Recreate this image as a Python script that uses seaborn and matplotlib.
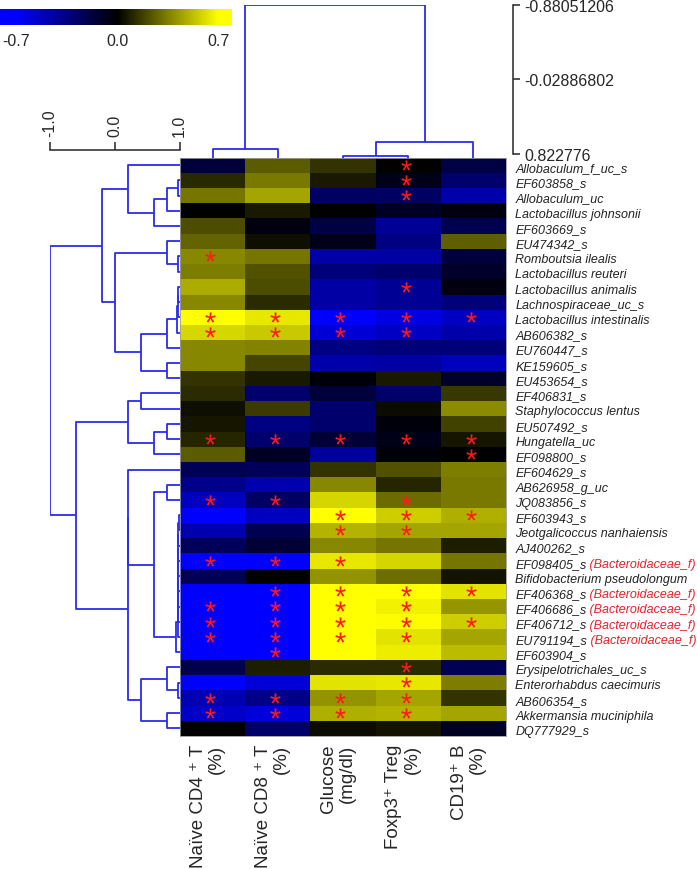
import numpy as np
import pandas as pd
import matplotlib
matplotlib.use('Agg')
import matplotlib.pyplot as plt
import seaborn as sns
from matplotlib.colors import LinearSegmentedColormap
from matplotlib.textpath import TextPath
from matplotlib.font_manager import FontProperties
from matplotlib.path import Path

sns.set_style('white')
plt.rcParams['font.family'] = ['Liberation Sans', 'DejaVu Sans']

# -------------------------------------------------------
# data (rows in dendrogram order)
# -------------------------------------------------------
species = ['Allobaculum_f_uc_s', 'EF603858_s', 'Allobaculum_uc', 'Lactobacillus johnsonii',
           'EF603669_s', 'EU474342_s', 'Romboutsia ilealis', 'Lactobacillus reuteri',
           'Lactobacillus animalis', 'Lachnospiraceae_uc_s', 'Lactobacillus intestinalis',
           'AB606382_s', 'EU760447_s', 'KE159605_s', 'EU453654_s', 'EF406831_s',
           'Staphylococcus lentus', 'EU507492_s', 'Hungatella_uc', 'EF098800_s',
           'EF604629_s', 'AB626958_g_uc', 'JQ083856_s', 'EF603943_s',
           'Jeotgalicoccus nanhaiensis', 'AJ400262_s', 'EF098405_s',
           'Bifidobacterium pseudolongum', 'EF406368_s', 'EF406686_s', 'EF406712_s',
           'EU791194_s', 'EF603904_s', 'Erysipelotrichales_uc_s', 'Enterorhabdus caecimuris',
           'AB606354_s', 'Akkermansia muciniphila', 'DQ777929_s']
bacteroidaceae_rows = [26, 28, 29, 30, 31]
family_tag = ' (Bacteroidaceae_f)'

variables = ['Naïve CD4 ⁺ T\n(%)', 'Naïve CD8 ⁺ T\n(%)', 'Glucose\n(mg/dl)',
             'Foxp3⁺ Treg\n(%)', 'CD19⁺ B\n(%)']

naive_cd4 = [-0.16, 0.11, 0.32, 0.0, 0.21, 0.27, 0.37, 0.34, 0.47, 0.37,
             0.70, 0.59, 0.37, 0.37, 0.14, 0.12, 0.04, 0.06, 0.10, 0.25,
             -0.23, -0.38, -0.52, -0.70, -0.48, -0.25, -0.69, -0.23, -0.70, -0.70,
             -0.70, -0.70, -0.70, -0.21, -0.69, -0.49, -0.55, 0.0]
naive_cd8 = [0.25, 0.33, 0.45, 0.07, -0.04, 0.04, 0.32, 0.22, 0.21, 0.12,
             0.63, 0.55, 0.36, 0.19, 0.07, -0.30, 0.16, -0.36, -0.30, -0.10,
             -0.25, -0.48, -0.27, -0.52, -0.22, -0.15, -0.69, 0.0, -0.70, -0.70,
             -0.70, -0.70, -0.70, 0.08, -0.59, -0.37, -0.60, -0.29]
glucose = [0.14, 0.07, -0.27, 0.0, -0.19, -0.07, -0.45, -0.33, -0.45, -0.45,
           -0.69, -0.58, -0.36, -0.47, -0.03, -0.16, -0.30, -0.30, -0.15, -0.43,
           0.14, 0.37, 0.58, 0.70, 0.49, 0.37, 0.63, 0.40, 0.70, 0.70,
           0.70, 0.70, 0.70, 0.12, 0.62, 0.40, 0.48, 0.03]
foxp3_treg = [0.0, -0.07, -0.27, -0.10, -0.41, -0.36, -0.45, -0.30, -0.41, -0.41,
              -0.62, -0.54, -0.33, -0.45, 0.07, -0.29, 0.03, -0.03, -0.07, -0.03,
              0.22, 0.10, 0.29, 0.56, 0.45, 0.32, 0.58, 0.30, 0.70, 0.66,
              0.69, 0.62, 0.65, 0.12, 0.63, 0.45, 0.49, 0.05]
cd19_b = [-0.19, -0.30, -0.47, -0.04, -0.22, 0.26, -0.16, -0.12, -0.04, -0.34,
          -0.54, -0.47, -0.33, -0.52, -0.12, 0.15, 0.38, 0.18, 0.06, -0.01,
          0.34, 0.33, 0.33, 0.48, 0.45, 0.08, 0.32, 0.05, 0.62, 0.41,
          0.56, 0.45, 0.51, -0.23, 0.34, 0.14, 0.45, -0.10]

# significant cells (row indices per column)
stars_cd4 = [6, 10, 11, 18, 22, 26, 29, 30, 31, 35, 36]
stars_cd8 = [10, 11, 18, 22, 26, 28, 29, 30, 31, 32, 35, 36]
stars_glucose = [10, 11, 18, 23, 24, 26, 28, 29, 30, 31, 35, 36]
stars_foxp3 = [0, 1, 2, 8, 10, 11, 18, 22, 23, 24, 28, 29, 30, 31, 33, 34, 35, 36]
stars_cd19 = [10, 18, 19, 23, 28, 30]

# dendrograms as nested (height, left, right); ints are leaves
chain_23_31 = (0.975, (0.976, (0.977, (0.978, (0.979, (0.98, (0.981, (0.982, 23, 24), 25),
                26), 27), 28), 29), 30), 31)
row_tree = (-1.0,
            (-0.2,
             (0.2, 0, (0.6, (0.8, (0.975, 1, 2), 3), 4)),
             (0.0,
              (0.8, 5, (0.975, 6, 7)),
              (0.4,
               (0.8, (0.965, (0.97, (0.975, 8, 9), 10), 11), 12),
               (0.8, 13, 14)))),
            (-0.6,
             (0.2, (0.41, 15, 16), (0.6, (0.8, 17, 18), 19)),
             (0.2,
              (0.2, 20, (0.6, (0.8, 21, 22), (0.94, chain_23_31, 32))),
              (0.4, (0.8, 33, (0.975, 34, 35)), (0.8, 36, 37)))))
col_tree = (-0.88051206, (0.7656, 0, 1), (0.682, (0.842, 2, 3), 4))

row_scale_ticks = [-1.0, 0.0, 1.0]
row_scale_labels = ['-1.0', '0.0', '1.0']
col_scale_ticks = [-0.88051206, -0.02886802, 0.822776]
col_scale_labels = ['-0.88051206', '-0.02886802', '0.822776']
cbar_ticks = [-0.7, 0.0, 0.7]
cbar_labels = ['-0.7', '0.0', '0.7']

# -------------------------------------------------------
# layout (pixels of a 697 x 870 canvas)
# -------------------------------------------------------
W, H = 697, 870
def px_axes(fig, x0, y0, x1, y1):
    return fig.add_axes([x0 / W, 1 - y1 / H, (x1 - x0) / W, (y1 - y0) / H])

LINE = '#2b2bee'
cmap = LinearSegmentedColormap.from_list('bky', ['#0000ff', '#000000', '#ffff00'])

# asterisk glyph as a centred marker (ignore CLOSEPOLY dummy vertices)
tp = TextPath((0, 0), '*', size=1, prop=FontProperties(family='Liberation Sans'))
keep = tp.codes != Path.CLOSEPOLY
verts = tp.vertices.copy()
mid = (verts[keep].min(axis=0) + verts[keep].max(axis=0)) / 2
verts = verts - mid
verts[~keep] = 0
asterisk = Path(verts, tp.codes)

fig = plt.figure(figsize=(W / 100, H / 100), dpi=100)

# heatmap
df = pd.DataFrame({'cd4': naive_cd4, 'cd8': naive_cd8, 'glu': glucose,
                   'treg': foxp3_treg, 'cd19': cd19_b}, index=species)
ax = px_axes(fig, 180, 158.5, 506, 737)
sns.heatmap(df, cmap=cmap, vmin=-0.7, vmax=0.7, cbar=False, ax=ax,
            xticklabels=False, yticklabels=False)
for sp in ax.spines.values():
    sp.set_visible(True)
    sp.set_color('#9a9a9a')
    sp.set_linewidth(0.6)

for j, rows in enumerate([stars_cd4, stars_cd8, stars_glucose, stars_foxp3, stars_cd19]):
    ax.scatter([j + 0.46] * len(rows), [r + 0.48 for r in rows], marker=asterisk,
               s=55, color='#ff1a1a', linewidths=0, zorder=3)

for i, name in enumerate(species):
    t = ax.text(5.14, i + 0.68, name, fontsize=9, style='italic', color='#222222',
                ha='left', va='center', clip_on=False)
    if i in bacteroidaceae_rows:
        ax.annotate(family_tag, xy=(1, 0), xycoords=t, fontsize=9, style='italic',
                    color='#e8202a', ha='left', va='bottom', annotation_clip=False)

for j, lab in enumerate(variables):
    ax.text(j + 0.42, 38.5, lab, rotation=90, fontsize=13.5, ha='center', va='top',
            multialignment='right', linespacing=1.1, clip_on=False)

# dendrograms
def draw_tree(a, node, base, horizontal):
    if isinstance(node, int):
        return node + 0.5, base
    h, left, right = node
    p1, h1 = draw_tree(a, left, base, horizontal)
    p2, h2 = draw_tree(a, right, base, horizontal)
    pos = [p1, p1, p2, p2]
    hts = [h1, h, h, h2]
    if horizontal:
        a.plot(hts, pos, color=LINE, lw=1.3, solid_capstyle='butt')
    else:
        a.plot(pos, hts, color=LINE, lw=1.3, solid_capstyle='butt')
    return (p1 + p2) / 2, h

axr = px_axes(fig, 50, 158.5, 180, 737)
draw_tree(axr, row_tree, 1.005, True)
axr.set_xlim(-1.0, 1.005)
axr.set_ylim(38, 0)
axr.axis('off')

axc = px_axes(fig, 180, 6, 513, 158.5)
draw_tree(axc, col_tree, 0.8628, False)
axc.set_xlim(0, 333 / 65.2)
axc.set_ylim(0.8628, -0.88051206)
for k in ['left', 'top', 'bottom']:
    axc.spines[k].set_visible(False)
axc.spines['right'].set_bounds(col_scale_ticks[0], col_scale_ticks[-1])
axc.spines['right'].set_linewidth(1.1)
axc.set_xticks([])
axc.yaxis.tick_right()
axc.set_yticks(col_scale_ticks)
axc.set_yticklabels(col_scale_labels, fontsize=11.5)
axc.tick_params(axis='y', direction='out', length=5, width=1.1, pad=3)

# row dendrogram scale bar
axs = px_axes(fig, 50, 150.5, 180, 151.5)
axs.set_xlim(-1.0, 1.005)
for k in ['left', 'right', 'bottom']:
    axs.spines[k].set_visible(False)
axs.spines['top'].set_bounds(-1.0, 1.0)
axs.spines['top'].set_linewidth(1.1)
axs.set_yticks([])
axs.xaxis.tick_top()
axs.set_xticks(row_scale_ticks)
axs.set_xticklabels(row_scale_labels, fontsize=11.5, rotation=90)
axs.tick_params(axis='x', direction='out', length=5.5, width=1.1, pad=4)

# colour key
axk = px_axes(fig, 0, 10, 232, 26)
grad = np.linspace(-0.81, 0.79, 400)[None, :]
axk.imshow(grad, extent=(-0.81, 0.79, 0, 1), aspect='auto', cmap=cmap, vmin=-0.7, vmax=0.7)
axk.set_xlim(-0.81, 0.79)
axk.set_yticks([])
axk.set_xticks(cbar_ticks)
axk.set_xticklabels(cbar_labels, fontsize=11.5)
axk.tick_params(axis='x', length=0, pad=6)
for sp in axk.spines.values():
    sp.set_visible(False)

fig.savefig('out.png', dpi=100)
